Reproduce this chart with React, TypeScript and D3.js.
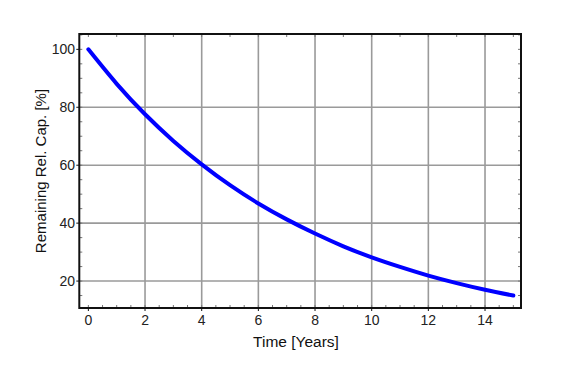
import React from "react";
import * as d3 from "d3";

const years = [0, 1, 2, 3, 4, 5, 6, 7, 8, 9, 10, 11, 12, 13, 14, 15];
const capacity = [100, 88.1, 77.6, 68.4, 60.3, 53.1, 46.8, 41.3, 36.4, 32.0, 28.2, 24.9, 21.9, 19.3, 17.0, 15.0];
const xTicks = [0, 2, 4, 6, 8, 10, 12, 14];
const yTicks = [20, 40, 60, 80, 100];
const xGrid = [2, 4, 6, 8, 10, 12, 14];
const yGrid = [20, 40, 60, 80];

const W = 569, H = 380;
const L = 79.3, R = 521, T = 34, B = 308;

export default function App() {
  const x = d3.scaleLinear().domain([-0.32, 15.27]).range([L, R]);
  const y = d3.scaleLinear().domain([10.7, 105.3]).range([B, T]);
  const pts = years.map((t, i) => [t, capacity[i]] as [number, number]);
  const line = d3.line<[number, number]>().x(d => x(d[0])).y(d => y(d[1])).curve(d3.curveNatural);

  const xMinor = d3.range(0, 15.01, 0.5);
  const xTopMinor = d3.range(0, 15.01, 1);
  const yMinor = d3.range(15, 105.01, 5);
  const font = "Liberation Sans, Arial, sans-serif";

  return (
    <svg width={W} height={H} style={{ position: "absolute", left: 0, top: 0, background: "#fff" }}>
      <rect x={0} y={0} width={W} height={H} fill="#fff" />
      {xGrid.map(v => (
        <line key={"gx" + v} x1={x(v)} x2={x(v)} y1={T} y2={B} stroke="#9a9a9a" strokeWidth={1.6} />
      ))}
      {yGrid.map(v => (
        <line key={"gy" + v} x1={L} x2={R} y1={y(v)} y2={y(v)} stroke="#9a9a9a" strokeWidth={1.6} />
      ))}
      {xMinor.map(v => (
        <line key={"mb" + v} x1={x(v)} x2={x(v)} y1={B} y2={B - 3} stroke="#777" strokeWidth={1} />
      ))}
      {xTopMinor.map(v => (
        <line key={"mt" + v} x1={x(v)} x2={x(v)} y1={T} y2={T + 3} stroke="#777" strokeWidth={1} />
      ))}
      {yMinor.map(v => (
        <g key={"my" + v}>
          <line x1={L} x2={L + 3} y1={y(v)} y2={y(v)} stroke="#777" strokeWidth={1} />
          <line x1={R} x2={R - 3} y1={y(v)} y2={y(v)} stroke="#777" strokeWidth={1} />
        </g>
      ))}
      <path d={line(pts) || ""} fill="none" stroke="#0000ff" strokeWidth={4} strokeLinecap="round" />
      <rect x={L} y={T} width={R - L} height={B - T} fill="none" stroke="#111" strokeWidth={2} />
      {xTicks.map(v => (
        <g key={"xt" + v}>
          <line x1={x(v)} x2={x(v)} y1={B} y2={B + 3} stroke="#111" strokeWidth={1} />
          <text x={x(v)} y={325} textAnchor="middle" fontFamily={font} fontSize={14} fill="#222">{v}</text>
        </g>
      ))}
      {yTicks.map(v => (
        <g key={"yt" + v}>
          <line x1={L - 3} x2={L} y1={y(v)} y2={y(v)} stroke="#111" strokeWidth={1} />
          <text x={75} y={y(v) + 5} textAnchor="end" fontFamily={font} fontSize={14} fill="#222">{v}</text>
        </g>
      ))}
      <text x={296} y={347} textAnchor="middle" fontFamily={font} fontSize={15.5} fill="#111">Time [Years]</text>
      <text transform={`translate(45.5,171) rotate(-90)`} textAnchor="middle" fontFamily={font} fontSize={15} fill="#111">Remaining Rel. Cap. [%]</text>
    </svg>
  );
}
